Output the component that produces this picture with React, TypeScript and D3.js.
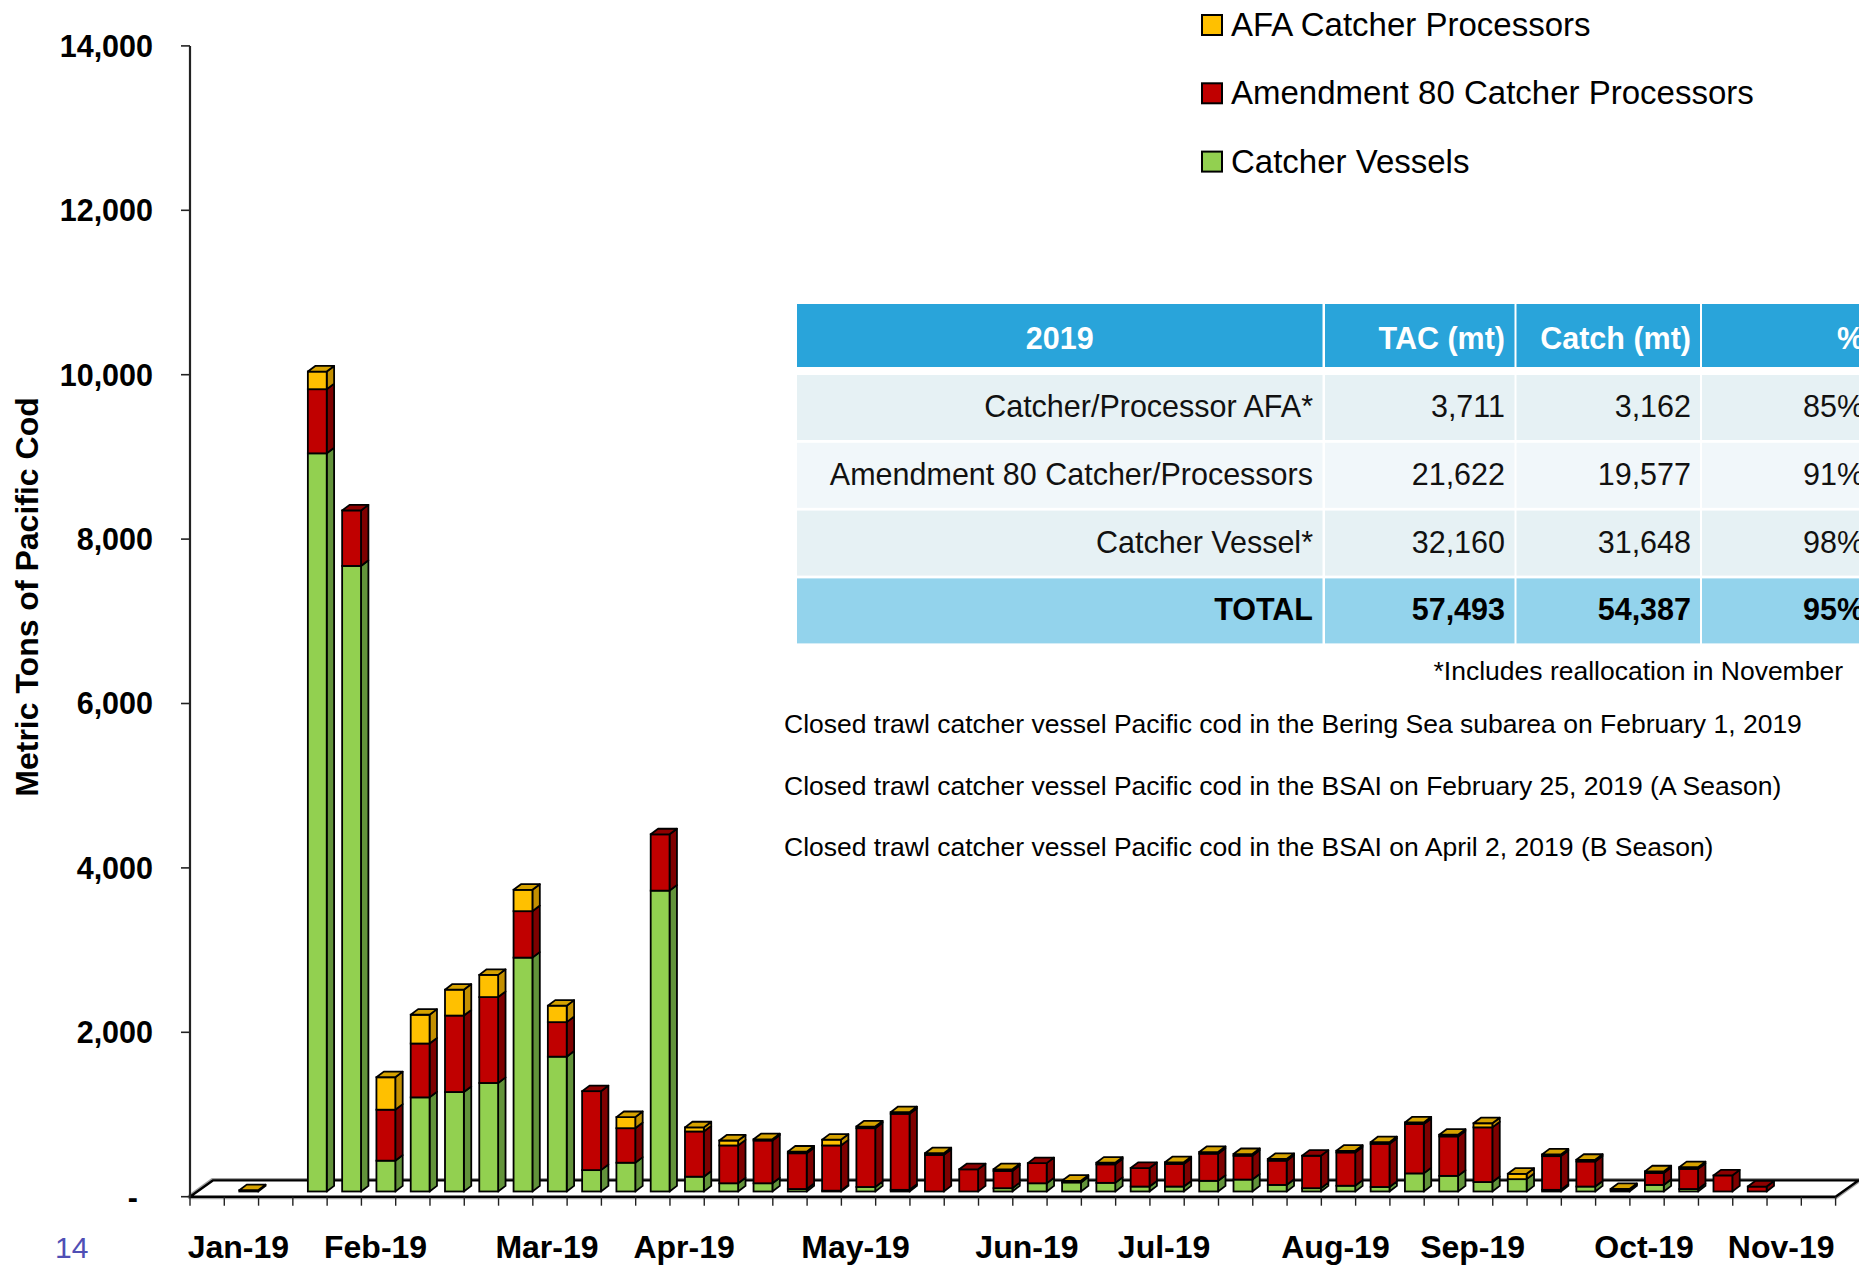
import React from "react";
import * as d3 from "d3";

// weekly categories (week ending dates, 2019)
const weeks = [
  "01/05", "01/12", "01/19", "01/26",
  "02/02", "02/09", "02/16", "02/23",
  "03/02", "03/09", "03/16", "03/23", "03/30",
  "04/06", "04/13", "04/20", "04/27",
  "05/04", "05/11", "05/18", "05/25",
  "06/01", "06/08", "06/15", "06/22", "06/29",
  "07/06", "07/13", "07/20", "07/27",
  "08/03", "08/10", "08/17", "08/24", "08/31",
  "09/07", "09/14", "09/21", "09/28",
  "10/05", "10/12", "10/19", "10/26",
  "11/02", "11/09", "11/16", "11/23", "11/30",
];

// metric tons per week
const catcherVessels = [
  0, 0, 0, 8980, 7610, 375, 1145, 1210, 1320, 2845, 1640, 260, 350, 3660,
  180, 100, 100, 30, 10, 55, 20, 0, 0, 40, 100, 110, 105, 60, 60, 130, 145,
  80, 40, 70, 55, 220, 190, 115, 150, 20, 60, 0, 80, 30, 0, 0, 0, 0,
];
const amendment80 = [
  0, 0, 0, 780, 675, 620, 655, 930, 1045, 565, 420, 960, 420, 685,
  550, 460, 520, 435, 550, 715, 925, 445, 270, 210, 245, 0, 225, 225, 275, 330, 290,
  295, 395, 405, 525, 600, 480, 665, 0, 410, 305, 15, 145, 245, 195, 60, 0, 0,
];
const afaCatcherProcessors = [
  0, 15, 0, 215, 0, 395, 350, 315, 270, 260, 200, 0, 135, 0,
  50, 60, 15, 20, 70, 20, 20, 20, 0, 20, 0, 20, 20, 0, 20, 20, 20,
  20, 0, 20, 20, 20, 20, 50, 65, 20, 20, 15, 20, 20, 0, 0, 0, 0,
];

const monthLabels = [
  "Jan-19", "Feb-19", "Mar-19", "Apr-19", "May-19", "Jun-19",
  "Jul-19", "Aug-19", "Sep-19", "Oct-19", "Nov-19",
];
const monthLabelWeeks = [
  "01/12", "02/09", "03/16", "04/13", "05/18", "06/22",
  "07/20", "08/24", "09/21", "10/26", "11/23",
];

const yTicks = [0, 2000, 4000, 6000, 8000, 10000, 12000, 14000];

const legendNames = [
  "AFA Catcher Processors",
  "Amendment 80 Catcher Processors",
  "Catcher Vessels",
];

const tableHeader = ["2019", "TAC (mt)", "Catch (mt)", "%"];
const tableRows = [
  ["Catcher/Processor AFA*", "3,711", "3,162", "85%"],
  ["Amendment 80 Catcher/Processors", "21,622", "19,577", "91%"],
  ["Catcher Vessel*", "32,160", "31,648", "98%"],
];
const tableTotal = ["TOTAL", "57,493", "54,387", "95%"];
const footnote = "*Includes reallocation in November";
const closureNotes = [
  "Closed trawl catcher vessel Pacific cod in the Bering Sea subarea on February 1, 2019",
  "Closed trawl catcher vessel Pacific cod in the BSAI on February 25, 2019 (A Season)",
  "Closed trawl catcher vessel Pacific cod in the BSAI on April 2, 2019 (B Season)",
];
const pageNumber = "14";

const W = 1859;
const H = 1265;
const font = "'Liberation Sans', Arial, sans-serif";

const colors = {
  cv: { front: "#92D050", side: "#62933A", top: "#7DB545" },
  a80: { front: "#C00000", side: "#7E0000", top: "#8E0000" },
  afa: { front: "#FFC000", side: "#C38F00", top: "#D6A200" },
};
const legendColors = [colors.afa.front, colors.a80.front, colors.cv.front];

const App = () => {
  const axisLeft = 190;
  const axisRight = 1835.6;
  const floorY = 1196.7;
  const floorDepth = [22.8, -16.3];
  const near = [floorDepth[0] * 0.32, floorDepth[1] * 0.32];
  const barDepth = [7.4, -5.6];

  const x = d3.scaleBand<string>().domain(weeks).range([axisLeft, axisRight]);
  const bw = x.bandwidth();
  const frontW = bw * 0.55;

  const y = d3.scaleLinear().domain([0, 14000]).range([floorY, 45.9]);

  const rows = weeks.map((w, i) => ({
    week: w,
    cv: catcherVessels[i],
    a80: amendment80[i],
    afa: afaCatcherProcessors[i],
  }));
  const keys = ["cv", "a80", "afa"] as const;
  const stacked = d3.stack<any>().keys(keys as any)(rows);

  const bars = rows.map((row, i) => {
    const x0 = (x(row.week) as number) + (bw - frontW) / 2 + near[0];
    const x1 = x0 + frontW;
    const yb = (v: number) => y(v) + near[1];
    const segs = keys
      .map((k, li) => ({ k, y0: stacked[li][i][0], y1: stacked[li][i][1] }))
      .filter((s) => s.y1 - s.y0 > 0);
    if (!segs.length) return null;
    const top = segs[segs.length - 1];
    const [dx, dy] = barDepth;
    return (
      <g key={row.week}>
        {segs.map((s) => {
          const c = colors[s.k];
          const ya = yb(s.y1);
          const yz = yb(s.y0);
          return (
            <g key={s.k}>
              <polygon
                points={`${x1},${yz} ${x1 + dx},${yz + dy} ${x1 + dx},${ya + dy} ${x1},${ya}`}
                fill={c.side}
                stroke="#000"
                strokeWidth={1.8}
                strokeLinejoin="round"
              />
              <rect
                x={x0}
                y={ya}
                width={frontW}
                height={yz - ya}
                fill={c.front}
                stroke="#000"
                strokeWidth={1.8}
              />
            </g>
          );
        })}
        <polygon
          points={`${x0},${yb(top.y1)} ${x0 + dx},${yb(top.y1) + dy} ${x1 + dx},${yb(top.y1) + dy} ${x1},${yb(top.y1)}`}
          fill={colors[top.k].top}
          stroke="#000"
          strokeWidth={1.8}
          strokeLinejoin="round"
        />
      </g>
    );
  });

  const floorPts = [
    [axisLeft, floorY],
    [axisRight, floorY],
    [axisRight + floorDepth[0], floorY + floorDepth[1]],
    [axisLeft + floorDepth[0], floorY + floorDepth[1]],
  ]
    .map((p) => p.join(","))
    .join(" ");

  const tickXs = weeks.map((w) => x(w) as number).concat([axisRight]);

  // table geometry
  const colEdges = [797, 1322.5, 1325, 1514.5, 1516.5, 1700, 1702, 1900];
  const colRightText = [1313, 1505, 1691, 1864];
  const headerTop = 304;
  const headerH = 63;
  const rowTop = (k: number) => 375 + k * 67.8;
  const rowH = 65;
  const rowFills = ["#E6F1F4", "#F1F7FA", "#E6F1F4"];

  const tableCells = (
    cells: string[],
    top: number,
    h: number,
    fill: string,
    textColor: string,
    bold: boolean,
    baseline: number,
    key: string,
    firstCentered = false
  ) => (
    <g key={key}>
      {[0, 1, 2, 3].map((c) => (
        <rect
          key={c}
          x={colEdges[c * 2]}
          y={top}
          width={colEdges[c * 2 + 1] - colEdges[c * 2]}
          height={h}
          fill={fill}
        />
      ))}
      {cells.map((t, c) => (
        <text
          key={`t${c}`}
          x={c === 0 && firstCentered ? (colEdges[0] + colEdges[1]) / 2 : colRightText[c]}
          y={baseline}
          textAnchor={c === 0 && firstCentered ? "middle" : "end"}
          fontSize={30.5}
          fontWeight={bold ? "bold" : "normal"}
          fill={textColor}
        >
          {t}
        </text>
      ))}
    </g>
  );

  return (
    <div style={{ position: "absolute", left: 0, top: 0, width: W, height: H, background: "#fff" }}>
      <svg width={W} height={H} viewBox={`0 0 ${W} ${H}`} style={{ display: "block", overflow: "hidden" }} fontFamily={font}>
        <rect x={0} y={0} width={W} height={H} fill="#fff" />

        {/* floor */}
        <polygon points={floorPts} fill="#fff" stroke="#a0a0a0" strokeWidth={5} strokeLinejoin="round" />
        <polygon points={floorPts} fill="#fff" stroke="#000" strokeWidth={2.4} strokeLinejoin="round" />

        {/* x ticks */}
        {tickXs.map((tx, i) => (
          <line key={i} x1={tx} x2={tx} y1={floorY} y2={floorY + 9} stroke="#222" strokeWidth={1.4} />
        ))}

        {/* y axis */}
        <line x1={axisLeft} x2={axisLeft} y1={y(14000)} y2={floorY} stroke="#222" strokeWidth={2.2} />
        {yTicks.map((t) => (
          <g key={t}>
            <line x1={axisLeft - 9} x2={axisLeft} y1={y(t)} y2={y(t)} stroke="#222" strokeWidth={1.6} />
            <text x={t === 0 ? 138 : 153} y={y(t) + 10.9} textAnchor="end" fontSize={30.5} fontWeight="bold" fill="#000">
              {t === 0 ? "-" : d3.format(",")(t)}
            </text>
          </g>
        ))}
        <text
          transform={`translate(38, 597) rotate(-90)`}
          textAnchor="middle"
          fontSize={32}
          fontWeight="bold"
          fill="#000"
        >
          Metric Tons of Pacific Cod
        </text>

        {/* bars */}
        {bars}

        {/* month labels */}
        {monthLabels.map((m, i) => (
          <text
            key={m}
            x={(x(monthLabelWeeks[i]) as number) + bw / 2 - 3}
            y={1258}
            textAnchor="middle"
            fontSize={32}
            fontWeight="bold"
            fill="#000"
          >
            {m}
          </text>
        ))}

        <text x={55} y={1258} fontSize={30} fill="#4F4FB5">
          {pageNumber}
        </text>

        {/* legend */}
        {legendNames.map((n, i) => {
          const base = 36 + i * 68.3;
          return (
            <g key={n}>
              <rect x={1202} y={base - 21} width={20} height={20} fill={legendColors[i]} stroke="#000" strokeWidth={2} />
              <text x={1231} y={base} fontSize={33} fill="#000">
                {n}
              </text>
            </g>
          );
        })}

        {/* table */}
        {tableCells(tableHeader, headerTop, headerH, "#29A4DA", "#fff", true, 349, "head", true)}
        {tableRows.map((r, k) =>
          tableCells(r, rowTop(k), rowH, rowFills[k], "#111", false, rowTop(k) + 42, `r${k}`)
        )}
        {tableCells(tableTotal, rowTop(3), rowH, "#93D3EC", "#000", true, rowTop(3) + 42, "total")}

        <text x={1843} y={680} textAnchor="end" fontSize={26.5} fill="#000">
          {footnote}
        </text>
        {closureNotes.map((n, i) => (
          <text key={i} x={784} y={733 + i * 61.7} fontSize={26.5} fill="#000">
            {n}
          </text>
        ))}
      </svg>
    </div>
  );
};

export default App;
